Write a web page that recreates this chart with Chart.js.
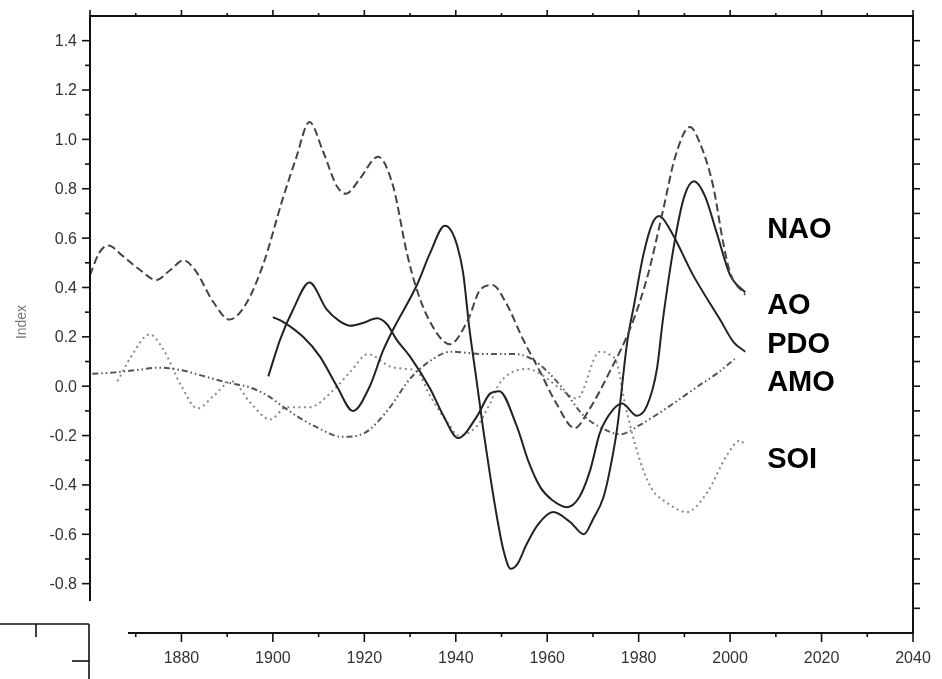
<!DOCTYPE html>
<html>
<head>
<meta charset="utf-8">
<title>Index</title>
<script src="https://cdn.jsdelivr.net/npm/chart.js@4.4.1/dist/chart.umd.min.js"></script>
<style>
    html, body { margin: 0; padding: 0; background: #fff; }
    #wrap { position: relative; width: 942px; height: 679px; }
</style>
</head>
<body>
<div id="wrap"><canvas id="chart"></canvas></div>
<script>
// smoothed index series, year / value pairs
const naoYears = [1860, 1862, 1864, 1867, 1871, 1874.5, 1877.5, 1880.5, 1883, 1887, 1890.5, 1894, 1898, 1902, 1905, 1908, 1911, 1914, 1916, 1919, 1923, 1926.3, 1929.3, 1931.5, 1934.4, 1938.7, 1942.7, 1945.3, 1948, 1951.2, 1954.7, 1958.4, 1962, 1966, 1969, 1973.7, 1978.5, 1982, 1985.3, 1988, 1991.2, 1993.5, 1996.3, 1998.5, 2000, 2003.3];
const naoIndex = [0.45, 0.54, 0.57, 0.53, 0.47, 0.43, 0.47, 0.51, 0.47, 0.34, 0.27, 0.33, 0.50, 0.75, 0.92, 1.07, 0.95, 0.81, 0.78, 0.84, 0.93, 0.81, 0.54, 0.39, 0.26, 0.17, 0.27, 0.39, 0.41, 0.33, 0.19, 0.06, -0.07, -0.17, -0.10, 0.06, 0.25, 0.45, 0.71, 0.93, 1.05, 0.98, 0.81, 0.58, 0.46, 0.37];

const aoYears = [1899, 1901.6, 1904.4, 1908, 1911.8, 1914.5, 1917, 1919.5, 1922.8, 1925, 1927, 1930, 1934.4, 1937.3, 1940.5, 1944.7, 1947.5, 1949.5, 1953.3, 1956, 1958.5, 1961, 1964.3, 1967, 1969.4, 1971.5, 1974.4, 1976.4, 1979.6, 1981.8, 1984, 1985.3, 1988, 1990, 1992.1, 1994.5, 1997.1, 2000, 2003.3];
const aoIndex = [0.04, 0.19, 0.31, 0.42, 0.31, 0.265, 0.245, 0.255, 0.275, 0.25, 0.19, 0.12, -0.01, -0.12, -0.21, -0.12, -0.03, -0.02, -0.16, -0.31, -0.41, -0.46, -0.49, -0.45, -0.34, -0.19, -0.095, -0.07, -0.12, -0.08, 0.07, 0.27, 0.60, 0.77, 0.83, 0.77, 0.62, 0.45, 0.38];

const pdoYears = [1900, 1902.3, 1906.6, 1910.3, 1914, 1917.5, 1921.2, 1924, 1926.3, 1931.5, 1934.4, 1937.6, 1939, 1940.3, 1941.6, 1943, 1944.5, 1946, 1947.5, 1949, 1950.5, 1952, 1953.5, 1955.5, 1958, 1961.3, 1965, 1968, 1970, 1972.3, 1973.7, 1975.3, 1977.5, 1979, 1981, 1983, 1984.5, 1987, 1991.9, 1997.8, 2000.7, 2003.3];
const pdoIndex = [0.28, 0.26, 0.20, 0.12, 0.0, -0.10, 0.0, 0.14, 0.23, 0.41, 0.54, 0.65, 0.63, 0.57, 0.46, 0.23, 0.03, -0.175, -0.36, -0.53, -0.67, -0.74, -0.72, -0.64, -0.56, -0.51, -0.55, -0.60, -0.54, -0.45, -0.34, -0.17, 0.18, 0.33, 0.53, 0.66, 0.69, 0.63, 0.45, 0.27, 0.18, 0.14];

const amoYears = [1860.5, 1865, 1870, 1875, 1880, 1885, 1890, 1895, 1899, 1902, 1906, 1910, 1915, 1920, 1925, 1930, 1935, 1939, 1946, 1953, 1957.5, 1963, 1968, 1972, 1976, 1980, 1986, 1993, 1997, 2001];
const amoIndex = [0.05, 0.055, 0.065, 0.075, 0.065, 0.04, 0.015, -0.005, -0.04, -0.08, -0.13, -0.17, -0.205, -0.19, -0.10, 0.03, 0.11, 0.14, 0.13, 0.13, 0.10, 0.0, -0.12, -0.17, -0.195, -0.16, -0.09, 0.0, 0.05, 0.11];

const soiYears = [1866, 1869, 1873, 1876, 1880, 1883.5, 1887, 1891, 1895, 1899.4, 1903, 1908, 1913, 1917, 1920.8, 1925.6, 1929, 1931.5, 1934.4, 1938.7, 1940.5, 1944.7, 1947.5, 1949.7, 1955.6, 1958.5, 1962.8, 1966.5, 1971.5, 1973.5, 1975.3, 1977, 1979.3, 1981, 1983, 1986, 1990.5, 1995, 1999.3, 2002.2, 2003.3];
const soiIndex = [0.02, 0.12, 0.21, 0.15, 0.0, -0.09, -0.04, 0.02, -0.065, -0.135, -0.085, -0.085, -0.02, 0.06, 0.13, 0.08, 0.07, 0.06, -0.04, -0.16, -0.20, -0.16, -0.07, 0.015, 0.07, 0.05, -0.01, -0.05, 0.14, 0.13, 0.09, -0.07, -0.24, -0.34, -0.42, -0.47, -0.51, -0.43, -0.28, -0.22, -0.24];

const seriesNames = ["NAO", "AO", "PDO", "AMO", "SOI"];
// index level each name sits at, at the right of the curves
const nameLevels = [0.60, 0.292, 0.134, -0.02, -0.33];

const yTickLabels = [-0.8, -0.6, -0.4, -0.2, 0.0, 0.2, 0.4, 0.6, 0.8, 1.0, 1.2, 1.4];
const xTickLabels = [1880, 1900, 1920, 1940, 1960, 1980, 2000, 2020, 2040];

const xMin = 1860, xMax = 2040;
const yMin = -1.0, yMax = 1.5;

const FONT = '"Liberation Sans", Arial, sans-serif';

function pairs(xs, ys) {
    return xs.map((x, i) => ({ x: x, y: ys[i] }));
}

function line(label, xs, ys, color, dash) {
    return {
        label: label,
        data: pairs(xs, ys),
        borderColor: color,
        borderWidth: 2,
        borderDash: dash,
        pointRadius: 0,
        fill: false,
        cubicInterpolationMode: "monotone"
    };
}

// axes, ticks and names are drawn by hand
const frame = {
    id: "frame",
    afterDraw(chart) {
        const ctx = chart.ctx;
        const sx = chart.scales.x;
        const sy = chart.scales.y;
        const px = v => sx.getPixelForValue(v);
        const py = v => sy.getPixelForValue(v);

        const left = px(xMin), right = px(xMax);
        const top = py(yMax), bottom = py(yMin);
        const leftStop = py(-0.87);
        const bottomStart = px(1868.3);

        ctx.save();
        ctx.strokeStyle = "#111";
        ctx.lineWidth = 2;
        ctx.lineCap = "butt";

        function seg(x1, y1, x2, y2) {
            ctx.beginPath();
            ctx.moveTo(x1, y1);
            ctx.lineTo(x2, y2);
            ctx.stroke();
        }

        // frame lines
        seg(left, top, right, top);
        seg(left, top - 1, left, leftStop);
        seg(right, top - 1, right, bottom + 1);
        seg(bottomStart, bottom, right + 1, bottom);

        ctx.lineWidth = 1.6;
        // left ticks
        for (let k = -8; k <= 14; k++) {
            const major = k % 2 === 0;
            const yy = py(k / 10);
            seg(left - (major ? 8 : 5), yy, left, yy);
        }
        // right ticks
        for (let k = -9; k <= 14; k++) {
            const yy = py(k / 10);
            seg(right, yy, right + 7, yy);
        }
        // top and bottom ticks
        for (let yr = xMin; yr <= xMax; yr += 10) {
            const major = (yr - xMin) % 20 === 0;
            const xx = px(yr);
            seg(xx, top, xx, top - (major ? 6 : 3));
            if (xx >= bottomStart) {
                seg(xx, bottom, xx, bottom + (major ? 9 : 4));
            }
        }

        // loose corner piece at the lower left
        ctx.lineWidth = 1.6;
        seg(0, 624, 89, 624);
        seg(89, 624, 89, 679);
        seg(36, 624, 36, 637);
        seg(72, 661, 89, 661);

        // tick labels
        ctx.fillStyle = "#333";
        ctx.font = "16px " + FONT;
        ctx.textAlign = "right";
        ctx.textBaseline = "middle";
        yTickLabels.forEach(v => {
            ctx.fillText(v.toFixed(1), left - 13, py(v) + 1);
        });
        ctx.textAlign = "center";
        xTickLabels.forEach(yr => {
            ctx.fillText(String(yr), px(yr), bottom + 26);
        });

        // axis title
        ctx.save();
        ctx.translate(22, 322);
        ctx.rotate(-Math.PI / 2);
        ctx.fillStyle = "#777";
        ctx.font = "14px " + FONT;
        ctx.fillText("Index", 0, 0);
        ctx.restore();

        // series names
        ctx.fillStyle = "#000";
        ctx.font = "bold 29px " + FONT;
        ctx.textAlign = "left";
        ctx.textBaseline = "alphabetic";
        seriesNames.forEach((name, i) => {
            ctx.fillText(name, px(2008.1), py(nameLevels[i]));
        });

        ctx.restore();
    }
};

new Chart(document.getElementById("chart"), {
    type: "line",
    data: {
        datasets: [
            line("NAO", naoYears, naoIndex, "#444", [8, 4]),
            line("AO", aoYears, aoIndex, "#222", []),
            line("PDO", pdoYears, pdoIndex, "#222", []),
            line("AMO", amoYears, amoIndex, "#555", [6, 3, 1.5, 3, 1.5, 3]),
            line("SOI", soiYears, soiIndex, "#888", [2, 3.5])
        ]
    },
    options: {
        responsive: true,
        maintainAspectRatio: false,
        animation: false,
        layout: {
            padding: { left: 90, right: 29, top: 16, bottom: 46 }
        },
        plugins: {
            legend: { display: false },
            tooltip: { enabled: false }
        },
        scales: {
            x: { type: "linear", min: xMin, max: xMax, display: false },
            y: { type: "linear", min: yMin, max: yMax, display: false }
        }
    },
    plugins: [frame]
});
</script>
</body>
</html>
